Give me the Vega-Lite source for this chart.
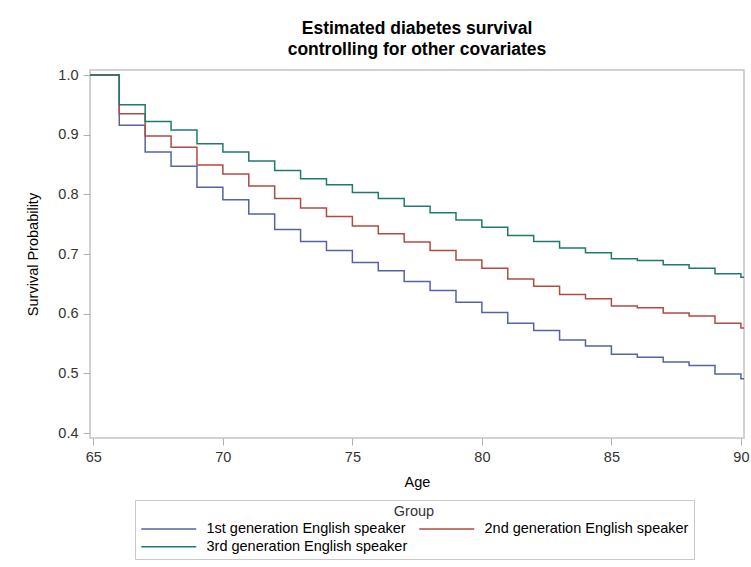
{
  "$schema": "https://vega.github.io/schema/vega-lite/v6.json",
  "width": 654,
  "height": 368,
  "autosize": {"type": "none"},
  "padding": {"left": 90, "top": 70, "right": 7, "bottom": 129},
  "background": "white",
  "title": {
    "text": ["Estimated diabetes survival", "controlling for other covariates"],
    "anchor": "middle",
    "font": "Liberation Sans",
    "fontSize": 17.5,
    "fontWeight": "bold",
    "color": "#000000",
    "offset": 9,
    "lineHeight": 21
  },
  "data": {
    "values": [
      {"age": 64.87, "group": "1st generation English speaker", "s": 1.0},
      {"age": 66, "group": "1st generation English speaker", "s": 0.916},
      {"age": 67, "group": "1st generation English speaker", "s": 0.871},
      {"age": 68, "group": "1st generation English speaker", "s": 0.847},
      {"age": 69, "group": "1st generation English speaker", "s": 0.812},
      {"age": 70, "group": "1st generation English speaker", "s": 0.791},
      {"age": 71, "group": "1st generation English speaker", "s": 0.767},
      {"age": 72, "group": "1st generation English speaker", "s": 0.741},
      {"age": 73, "group": "1st generation English speaker", "s": 0.721},
      {"age": 74, "group": "1st generation English speaker", "s": 0.706},
      {"age": 75, "group": "1st generation English speaker", "s": 0.686},
      {"age": 76, "group": "1st generation English speaker", "s": 0.672},
      {"age": 77, "group": "1st generation English speaker", "s": 0.654},
      {"age": 78, "group": "1st generation English speaker", "s": 0.639},
      {"age": 79, "group": "1st generation English speaker", "s": 0.619},
      {"age": 80, "group": "1st generation English speaker", "s": 0.602},
      {"age": 81, "group": "1st generation English speaker", "s": 0.584},
      {"age": 82, "group": "1st generation English speaker", "s": 0.572},
      {"age": 83, "group": "1st generation English speaker", "s": 0.556},
      {"age": 84, "group": "1st generation English speaker", "s": 0.546},
      {"age": 85, "group": "1st generation English speaker", "s": 0.532},
      {"age": 86, "group": "1st generation English speaker", "s": 0.527},
      {"age": 87, "group": "1st generation English speaker", "s": 0.519},
      {"age": 88, "group": "1st generation English speaker", "s": 0.513},
      {"age": 89, "group": "1st generation English speaker", "s": 0.499},
      {"age": 90, "group": "1st generation English speaker", "s": 0.491},
      {"age": 90.12, "group": "1st generation English speaker", "s": 0.491},
      {"age": 64.87, "group": "2nd generation English speaker", "s": 1.0},
      {"age": 66, "group": "2nd generation English speaker", "s": 0.935},
      {"age": 67, "group": "2nd generation English speaker", "s": 0.898},
      {"age": 68, "group": "2nd generation English speaker", "s": 0.879},
      {"age": 69, "group": "2nd generation English speaker", "s": 0.849},
      {"age": 70, "group": "2nd generation English speaker", "s": 0.834},
      {"age": 71, "group": "2nd generation English speaker", "s": 0.814},
      {"age": 72, "group": "2nd generation English speaker", "s": 0.793},
      {"age": 73, "group": "2nd generation English speaker", "s": 0.777},
      {"age": 74, "group": "2nd generation English speaker", "s": 0.763},
      {"age": 75, "group": "2nd generation English speaker", "s": 0.747},
      {"age": 76, "group": "2nd generation English speaker", "s": 0.734},
      {"age": 77, "group": "2nd generation English speaker", "s": 0.72},
      {"age": 78, "group": "2nd generation English speaker", "s": 0.706},
      {"age": 79, "group": "2nd generation English speaker", "s": 0.69},
      {"age": 80, "group": "2nd generation English speaker", "s": 0.676},
      {"age": 81, "group": "2nd generation English speaker", "s": 0.658},
      {"age": 82, "group": "2nd generation English speaker", "s": 0.646},
      {"age": 83, "group": "2nd generation English speaker", "s": 0.632},
      {"age": 84, "group": "2nd generation English speaker", "s": 0.625},
      {"age": 85, "group": "2nd generation English speaker", "s": 0.613},
      {"age": 86, "group": "2nd generation English speaker", "s": 0.61},
      {"age": 87, "group": "2nd generation English speaker", "s": 0.601},
      {"age": 88, "group": "2nd generation English speaker", "s": 0.596},
      {"age": 89, "group": "2nd generation English speaker", "s": 0.584},
      {"age": 90, "group": "2nd generation English speaker", "s": 0.576},
      {"age": 90.12, "group": "2nd generation English speaker", "s": 0.576},
      {"age": 64.87, "group": "3rd generation English speaker", "s": 1.0},
      {"age": 66, "group": "3rd generation English speaker", "s": 0.95},
      {"age": 67, "group": "3rd generation English speaker", "s": 0.922},
      {"age": 68, "group": "3rd generation English speaker", "s": 0.908},
      {"age": 69, "group": "3rd generation English speaker", "s": 0.885},
      {"age": 70, "group": "3rd generation English speaker", "s": 0.871},
      {"age": 71, "group": "3rd generation English speaker", "s": 0.856},
      {"age": 72, "group": "3rd generation English speaker", "s": 0.84},
      {"age": 73, "group": "3rd generation English speaker", "s": 0.826},
      {"age": 74, "group": "3rd generation English speaker", "s": 0.816},
      {"age": 75, "group": "3rd generation English speaker", "s": 0.803},
      {"age": 76, "group": "3rd generation English speaker", "s": 0.793},
      {"age": 77, "group": "3rd generation English speaker", "s": 0.78},
      {"age": 78, "group": "3rd generation English speaker", "s": 0.769},
      {"age": 79, "group": "3rd generation English speaker", "s": 0.757},
      {"age": 80, "group": "3rd generation English speaker", "s": 0.745},
      {"age": 81, "group": "3rd generation English speaker", "s": 0.731},
      {"age": 82, "group": "3rd generation English speaker", "s": 0.721},
      {"age": 83, "group": "3rd generation English speaker", "s": 0.71},
      {"age": 84, "group": "3rd generation English speaker", "s": 0.702},
      {"age": 85, "group": "3rd generation English speaker", "s": 0.692},
      {"age": 86, "group": "3rd generation English speaker", "s": 0.689},
      {"age": 87, "group": "3rd generation English speaker", "s": 0.682},
      {"age": 88, "group": "3rd generation English speaker", "s": 0.676},
      {"age": 89, "group": "3rd generation English speaker", "s": 0.667},
      {"age": 90, "group": "3rd generation English speaker", "s": 0.661},
      {"age": 90.12, "group": "3rd generation English speaker", "s": 0.661}
    ]
  },
  "mark": {"type": "line", "interpolate": "step-after", "strokeWidth": 1.5, "clip": true},
  "encoding": {
    "x": {
      "field": "age",
      "type": "quantitative",
      "title": "Age",
      "scale": {"domain": [64.87, 90.12], "nice": false, "zero": false},
      "axis": {"values": [65, 70, 75, 80, 85, 90], "format": "d", "titlePadding": 12, "labelPadding": 5}
    },
    "y": {
      "field": "s",
      "type": "quantitative",
      "title": "Survival Probability",
      "scale": {"domain": [0.3917, 1.0084], "nice": false, "zero": false},
      "axis": {"values": [0.4, 0.5, 0.6, 0.7, 0.8, 0.9, 1.0], "format": ".1f", "titlePadding": 17, "labelPadding": 5}
    },
    "color": {
      "field": "group",
      "type": "nominal",
      "title": "Group",
      "scale": {
        "domain": ["1st generation English speaker", "2nd generation English speaker", "3rd generation English speaker"],
        "range": ["#5563a6", "#b34a40", "#1f7a6e"]
      },
      "legend": {
        "orient": "none",
        "legendX": 45,
        "legendY": 430,
        "direction": "horizontal",
        "columns": 2,
        "columnPadding": 8,
        "rowPadding": 3,
        "padding": 5,
        "strokeColor": "#c8c8c8",
        "symbolType": "M-1.2,0H9.8",
        "symbolSize": 100,
        "symbolStrokeWidth": 1.5,
        "labelOffset": 52,
        "titleAnchor": "middle",
        "titleFontWeight": "normal",
        "titlePadding": 2
      }
    }
  },
  "config": {
    "font": "Liberation Sans",
    "view": {"stroke": "#c4c4c4", "strokeWidth": 1.5},
    "axis": {
      "grid": false,
      "domain": false,
      "tickColor": "#b0b0b0",
      "tickSize": 7,
      "labelFont": "Liberation Sans",
      "labelFontSize": 14.5,
      "labelColor": "#333333",
      "titleFont": "Liberation Sans",
      "titleFontSize": 14.5,
      "titleFontWeight": "normal",
      "titleColor": "#000000"
    },
    "legend": {
      "labelFont": "Liberation Sans",
      "labelFontSize": 14.5,
      "labelColor": "#000000",
      "titleFont": "Liberation Sans",
      "titleFontSize": 14.5,
      "titleColor": "#333333",
      "labelLimit": 400
    }
  }
}
